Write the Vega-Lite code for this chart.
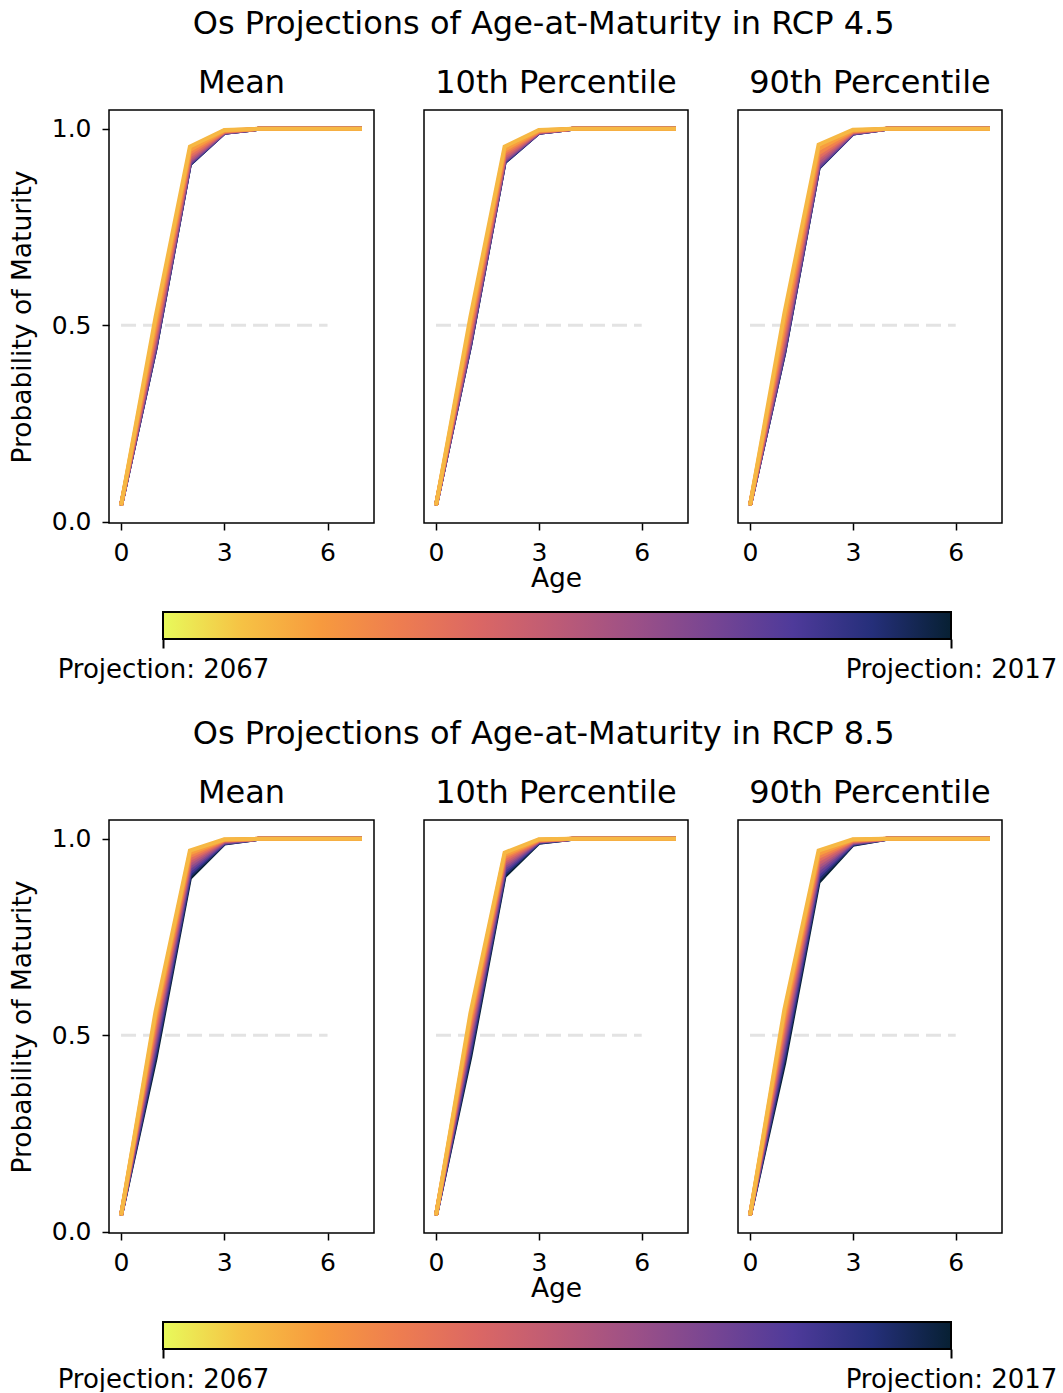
{
  "$schema": "https://vega.github.io/schema/vega-lite/v6.json",
  "background": "white",
  "padding": {"left": 8, "top": 8, "right": 0, "bottom": 0},
  "config": {
    "font": "DejaVu Sans",
    "view": {"stroke": "black", "strokeWidth": 1.5},
    "axis": {"grid": false, "domain": false, "tickColor": "black", "tickWidth": 1.5, "tickSize": 7, "labelFontSize": 25, "labelColor": "black", "titleFontSize": 26.5, "titleFontWeight": "normal", "titleColor": "black", "labelFont": "DejaVu Sans", "titleFont": "DejaVu Sans"},
    "title": {"fontSize": 32, "fontWeight": "normal", "color": "black", "font": "DejaVu Sans", "anchor": "middle"}
  },
  "datasets": {
    "half": [{"age": 0, "age2": 6, "p": 0.5}],
    "bar": [{"from": 2067, "to": 2017}],
    "m45": [
      {"year":2017,"age":0,"p":0.042},{"year":2017,"age":1,"p":0.440},{"year":2017,"age":2,"p":0.910},{"year":2017,"age":3,"p":0.990},{"year":2017,"age":4,"p":1},{"year":2017,"age":7,"p":1},
      {"year":2022,"age":0,"p":0.042},{"year":2022,"age":1,"p":0.441},{"year":2022,"age":2,"p":0.910},{"year":2022,"age":3,"p":0.990},{"year":2022,"age":4,"p":1},{"year":2022,"age":7,"p":1},
      {"year":2027,"age":0,"p":0.042},{"year":2027,"age":1,"p":0.443},{"year":2027,"age":2,"p":0.912},{"year":2027,"age":3,"p":0.990},{"year":2027,"age":4,"p":1},{"year":2027,"age":7,"p":1},
      {"year":2032,"age":0,"p":0.042},{"year":2032,"age":1,"p":0.447},{"year":2032,"age":2,"p":0.914},{"year":2032,"age":3,"p":0.991},{"year":2032,"age":4,"p":1},{"year":2032,"age":7,"p":1},
      {"year":2037,"age":0,"p":0.042},{"year":2037,"age":1,"p":0.453},{"year":2037,"age":2,"p":0.917},{"year":2037,"age":3,"p":0.991},{"year":2037,"age":4,"p":1},{"year":2037,"age":7,"p":1},
      {"year":2042,"age":0,"p":0.042},{"year":2042,"age":1,"p":0.460},{"year":2042,"age":2,"p":0.921},{"year":2042,"age":3,"p":0.992},{"year":2042,"age":4,"p":1},{"year":2042,"age":7,"p":1},
      {"year":2047,"age":0,"p":0.042},{"year":2047,"age":1,"p":0.469},{"year":2047,"age":2,"p":0.926},{"year":2047,"age":3,"p":0.993},{"year":2047,"age":4,"p":1},{"year":2047,"age":7,"p":1},
      {"year":2052,"age":0,"p":0.042},{"year":2052,"age":1,"p":0.479},{"year":2052,"age":2,"p":0.932},{"year":2052,"age":3,"p":0.993},{"year":2052,"age":4,"p":1},{"year":2052,"age":7,"p":1},
      {"year":2057,"age":0,"p":0.042},{"year":2057,"age":1,"p":0.491},{"year":2057,"age":2,"p":0.939},{"year":2057,"age":3,"p":0.994},{"year":2057,"age":4,"p":1},{"year":2057,"age":7,"p":1},
      {"year":2062,"age":0,"p":0.042},{"year":2062,"age":1,"p":0.505},{"year":2062,"age":2,"p":0.946},{"year":2062,"age":3,"p":0.996},{"year":2062,"age":4,"p":1},{"year":2062,"age":7,"p":1},
      {"year":2067,"age":0,"p":0.042},{"year":2067,"age":1,"p":0.520},{"year":2067,"age":2,"p":0.955},{"year":2067,"age":3,"p":0.997},{"year":2067,"age":4,"p":1},{"year":2067,"age":7,"p":1}
    ],
    "p10_45": [
      {"year":2017,"age":0,"p":0.042},{"year":2017,"age":1,"p":0.450},{"year":2017,"age":2,"p":0.915},{"year":2017,"age":3,"p":0.990},{"year":2017,"age":4,"p":1},{"year":2017,"age":7,"p":1},
      {"year":2022,"age":0,"p":0.042},{"year":2022,"age":1,"p":0.451},{"year":2022,"age":2,"p":0.915},{"year":2022,"age":3,"p":0.990},{"year":2022,"age":4,"p":1},{"year":2022,"age":7,"p":1},
      {"year":2027,"age":0,"p":0.042},{"year":2027,"age":1,"p":0.453},{"year":2027,"age":2,"p":0.917},{"year":2027,"age":3,"p":0.990},{"year":2027,"age":4,"p":1},{"year":2027,"age":7,"p":1},
      {"year":2032,"age":0,"p":0.042},{"year":2032,"age":1,"p":0.456},{"year":2032,"age":2,"p":0.919},{"year":2032,"age":3,"p":0.991},{"year":2032,"age":4,"p":1},{"year":2032,"age":7,"p":1},
      {"year":2037,"age":0,"p":0.042},{"year":2037,"age":1,"p":0.461},{"year":2037,"age":2,"p":0.921},{"year":2037,"age":3,"p":0.991},{"year":2037,"age":4,"p":1},{"year":2037,"age":7,"p":1},
      {"year":2042,"age":0,"p":0.042},{"year":2042,"age":1,"p":0.468},{"year":2042,"age":2,"p":0.925},{"year":2042,"age":3,"p":0.992},{"year":2042,"age":4,"p":1},{"year":2042,"age":7,"p":1},
      {"year":2047,"age":0,"p":0.042},{"year":2047,"age":1,"p":0.475},{"year":2047,"age":2,"p":0.929},{"year":2047,"age":3,"p":0.993},{"year":2047,"age":4,"p":1},{"year":2047,"age":7,"p":1},
      {"year":2052,"age":0,"p":0.042},{"year":2052,"age":1,"p":0.484},{"year":2052,"age":2,"p":0.935},{"year":2052,"age":3,"p":0.993},{"year":2052,"age":4,"p":1},{"year":2052,"age":7,"p":1},
      {"year":2057,"age":0,"p":0.042},{"year":2057,"age":1,"p":0.495},{"year":2057,"age":2,"p":0.941},{"year":2057,"age":3,"p":0.994},{"year":2057,"age":4,"p":1},{"year":2057,"age":7,"p":1},
      {"year":2062,"age":0,"p":0.042},{"year":2062,"age":1,"p":0.507},{"year":2062,"age":2,"p":0.947},{"year":2062,"age":3,"p":0.996},{"year":2062,"age":4,"p":1},{"year":2062,"age":7,"p":1},
      {"year":2067,"age":0,"p":0.042},{"year":2067,"age":1,"p":0.520},{"year":2067,"age":2,"p":0.955},{"year":2067,"age":3,"p":0.997},{"year":2067,"age":4,"p":1},{"year":2067,"age":7,"p":1}
    ],
    "p90_45": [
      {"year":2017,"age":0,"p":0.042},{"year":2017,"age":1,"p":0.430},{"year":2017,"age":2,"p":0.900},{"year":2017,"age":3,"p":0.988},{"year":2017,"age":4,"p":1},{"year":2017,"age":7,"p":1},
      {"year":2022,"age":0,"p":0.042},{"year":2022,"age":1,"p":0.431},{"year":2022,"age":2,"p":0.901},{"year":2022,"age":3,"p":0.988},{"year":2022,"age":4,"p":1},{"year":2022,"age":7,"p":1},
      {"year":2027,"age":0,"p":0.042},{"year":2027,"age":1,"p":0.434},{"year":2027,"age":2,"p":0.902},{"year":2027,"age":3,"p":0.988},{"year":2027,"age":4,"p":1},{"year":2027,"age":7,"p":1},
      {"year":2032,"age":0,"p":0.042},{"year":2032,"age":1,"p":0.439},{"year":2032,"age":2,"p":0.905},{"year":2032,"age":3,"p":0.989},{"year":2032,"age":4,"p":1},{"year":2032,"age":7,"p":1},
      {"year":2037,"age":0,"p":0.042},{"year":2037,"age":1,"p":0.446},{"year":2037,"age":2,"p":0.910},{"year":2037,"age":3,"p":0.990},{"year":2037,"age":4,"p":1},{"year":2037,"age":7,"p":1},
      {"year":2042,"age":0,"p":0.042},{"year":2042,"age":1,"p":0.455},{"year":2042,"age":2,"p":0.915},{"year":2042,"age":3,"p":0.991},{"year":2042,"age":4,"p":1},{"year":2042,"age":7,"p":1},
      {"year":2047,"age":0,"p":0.042},{"year":2047,"age":1,"p":0.466},{"year":2047,"age":2,"p":0.922},{"year":2047,"age":3,"p":0.992},{"year":2047,"age":4,"p":1},{"year":2047,"age":7,"p":1},
      {"year":2052,"age":0,"p":0.042},{"year":2052,"age":1,"p":0.479},{"year":2052,"age":2,"p":0.929},{"year":2052,"age":3,"p":0.993},{"year":2052,"age":4,"p":1},{"year":2052,"age":7,"p":1},
      {"year":2057,"age":0,"p":0.042},{"year":2057,"age":1,"p":0.494},{"year":2057,"age":2,"p":0.938},{"year":2057,"age":3,"p":0.994},{"year":2057,"age":4,"p":1},{"year":2057,"age":7,"p":1},
      {"year":2062,"age":0,"p":0.042},{"year":2062,"age":1,"p":0.511},{"year":2062,"age":2,"p":0.949},{"year":2062,"age":3,"p":0.996},{"year":2062,"age":4,"p":1},{"year":2062,"age":7,"p":1},
      {"year":2067,"age":0,"p":0.042},{"year":2067,"age":1,"p":0.530},{"year":2067,"age":2,"p":0.960},{"year":2067,"age":3,"p":0.998},{"year":2067,"age":4,"p":1},{"year":2067,"age":7,"p":1}
    ],
    "m85": [
      {"year":2017,"age":0,"p":0.042},{"year":2017,"age":1,"p":0.440},{"year":2017,"age":2,"p":0.900},{"year":2017,"age":3,"p":0.988},{"year":2017,"age":4,"p":1},{"year":2017,"age":7,"p":1},
      {"year":2022,"age":0,"p":0.042},{"year":2022,"age":1,"p":0.452},{"year":2022,"age":2,"p":0.907},{"year":2022,"age":3,"p":0.989},{"year":2022,"age":4,"p":1},{"year":2022,"age":7,"p":1},
      {"year":2027,"age":0,"p":0.042},{"year":2027,"age":1,"p":0.464},{"year":2027,"age":2,"p":0.914},{"year":2027,"age":3,"p":0.990},{"year":2027,"age":4,"p":1},{"year":2027,"age":7,"p":1},
      {"year":2032,"age":0,"p":0.042},{"year":2032,"age":1,"p":0.476},{"year":2032,"age":2,"p":0.921},{"year":2032,"age":3,"p":0.991},{"year":2032,"age":4,"p":1},{"year":2032,"age":7,"p":1},
      {"year":2037,"age":0,"p":0.042},{"year":2037,"age":1,"p":0.488},{"year":2037,"age":2,"p":0.928},{"year":2037,"age":3,"p":0.992},{"year":2037,"age":4,"p":1},{"year":2037,"age":7,"p":1},
      {"year":2042,"age":0,"p":0.042},{"year":2042,"age":1,"p":0.500},{"year":2042,"age":2,"p":0.935},{"year":2042,"age":3,"p":0.994},{"year":2042,"age":4,"p":1},{"year":2042,"age":7,"p":1},
      {"year":2047,"age":0,"p":0.042},{"year":2047,"age":1,"p":0.512},{"year":2047,"age":2,"p":0.942},{"year":2047,"age":3,"p":0.995},{"year":2047,"age":4,"p":1},{"year":2047,"age":7,"p":1},
      {"year":2052,"age":0,"p":0.042},{"year":2052,"age":1,"p":0.524},{"year":2052,"age":2,"p":0.949},{"year":2052,"age":3,"p":0.996},{"year":2052,"age":4,"p":1},{"year":2052,"age":7,"p":1},
      {"year":2057,"age":0,"p":0.042},{"year":2057,"age":1,"p":0.536},{"year":2057,"age":2,"p":0.956},{"year":2057,"age":3,"p":0.997},{"year":2057,"age":4,"p":1},{"year":2057,"age":7,"p":1},
      {"year":2062,"age":0,"p":0.042},{"year":2062,"age":1,"p":0.548},{"year":2062,"age":2,"p":0.963},{"year":2062,"age":3,"p":0.998},{"year":2062,"age":4,"p":1},{"year":2062,"age":7,"p":1},
      {"year":2067,"age":0,"p":0.042},{"year":2067,"age":1,"p":0.560},{"year":2067,"age":2,"p":0.970},{"year":2067,"age":3,"p":0.999},{"year":2067,"age":4,"p":1},{"year":2067,"age":7,"p":1}
    ],
    "p10_85": [
      {"year":2017,"age":0,"p":0.042},{"year":2017,"age":1,"p":0.445},{"year":2017,"age":2,"p":0.905},{"year":2017,"age":3,"p":0.990},{"year":2017,"age":4,"p":1},{"year":2017,"age":7,"p":1},
      {"year":2022,"age":0,"p":0.042},{"year":2022,"age":1,"p":0.456},{"year":2022,"age":2,"p":0.911},{"year":2022,"age":3,"p":0.991},{"year":2022,"age":4,"p":1},{"year":2022,"age":7,"p":1},
      {"year":2027,"age":0,"p":0.042},{"year":2027,"age":1,"p":0.467},{"year":2027,"age":2,"p":0.917},{"year":2027,"age":3,"p":0.992},{"year":2027,"age":4,"p":1},{"year":2027,"age":7,"p":1},
      {"year":2032,"age":0,"p":0.042},{"year":2032,"age":1,"p":0.478},{"year":2032,"age":2,"p":0.923},{"year":2032,"age":3,"p":0.993},{"year":2032,"age":4,"p":1},{"year":2032,"age":7,"p":1},
      {"year":2037,"age":0,"p":0.042},{"year":2037,"age":1,"p":0.489},{"year":2037,"age":2,"p":0.929},{"year":2037,"age":3,"p":0.994},{"year":2037,"age":4,"p":1},{"year":2037,"age":7,"p":1},
      {"year":2042,"age":0,"p":0.042},{"year":2042,"age":1,"p":0.500},{"year":2042,"age":2,"p":0.935},{"year":2042,"age":3,"p":0.995},{"year":2042,"age":4,"p":1},{"year":2042,"age":7,"p":1},
      {"year":2047,"age":0,"p":0.042},{"year":2047,"age":1,"p":0.511},{"year":2047,"age":2,"p":0.941},{"year":2047,"age":3,"p":0.995},{"year":2047,"age":4,"p":1},{"year":2047,"age":7,"p":1},
      {"year":2052,"age":0,"p":0.042},{"year":2052,"age":1,"p":0.522},{"year":2052,"age":2,"p":0.947},{"year":2052,"age":3,"p":0.996},{"year":2052,"age":4,"p":1},{"year":2052,"age":7,"p":1},
      {"year":2057,"age":0,"p":0.042},{"year":2057,"age":1,"p":0.533},{"year":2057,"age":2,"p":0.953},{"year":2057,"age":3,"p":0.997},{"year":2057,"age":4,"p":1},{"year":2057,"age":7,"p":1},
      {"year":2062,"age":0,"p":0.042},{"year":2062,"age":1,"p":0.544},{"year":2062,"age":2,"p":0.959},{"year":2062,"age":3,"p":0.998},{"year":2062,"age":4,"p":1},{"year":2062,"age":7,"p":1},
      {"year":2067,"age":0,"p":0.042},{"year":2067,"age":1,"p":0.555},{"year":2067,"age":2,"p":0.965},{"year":2067,"age":3,"p":0.999},{"year":2067,"age":4,"p":1},{"year":2067,"age":7,"p":1}
    ],
    "p90_85": [
      {"year":2017,"age":0,"p":0.042},{"year":2017,"age":1,"p":0.430},{"year":2017,"age":2,"p":0.890},{"year":2017,"age":3,"p":0.985},{"year":2017,"age":4,"p":1},{"year":2017,"age":7,"p":1},
      {"year":2022,"age":0,"p":0.042},{"year":2022,"age":1,"p":0.444},{"year":2022,"age":2,"p":0.898},{"year":2022,"age":3,"p":0.986},{"year":2022,"age":4,"p":1},{"year":2022,"age":7,"p":1},
      {"year":2027,"age":0,"p":0.042},{"year":2027,"age":1,"p":0.457},{"year":2027,"age":2,"p":0.906},{"year":2027,"age":3,"p":0.988},{"year":2027,"age":4,"p":1},{"year":2027,"age":7,"p":1},
      {"year":2032,"age":0,"p":0.042},{"year":2032,"age":1,"p":0.471},{"year":2032,"age":2,"p":0.914},{"year":2032,"age":3,"p":0.989},{"year":2032,"age":4,"p":1},{"year":2032,"age":7,"p":1},
      {"year":2037,"age":0,"p":0.042},{"year":2037,"age":1,"p":0.484},{"year":2037,"age":2,"p":0.922},{"year":2037,"age":3,"p":0.991},{"year":2037,"age":4,"p":1},{"year":2037,"age":7,"p":1},
      {"year":2042,"age":0,"p":0.042},{"year":2042,"age":1,"p":0.498},{"year":2042,"age":2,"p":0.930},{"year":2042,"age":3,"p":0.992},{"year":2042,"age":4,"p":1},{"year":2042,"age":7,"p":1},
      {"year":2047,"age":0,"p":0.042},{"year":2047,"age":1,"p":0.511},{"year":2047,"age":2,"p":0.938},{"year":2047,"age":3,"p":0.993},{"year":2047,"age":4,"p":1},{"year":2047,"age":7,"p":1},
      {"year":2052,"age":0,"p":0.042},{"year":2052,"age":1,"p":0.525},{"year":2052,"age":2,"p":0.946},{"year":2052,"age":3,"p":0.995},{"year":2052,"age":4,"p":1},{"year":2052,"age":7,"p":1},
      {"year":2057,"age":0,"p":0.042},{"year":2057,"age":1,"p":0.538},{"year":2057,"age":2,"p":0.954},{"year":2057,"age":3,"p":0.996},{"year":2057,"age":4,"p":1},{"year":2057,"age":7,"p":1},
      {"year":2062,"age":0,"p":0.042},{"year":2062,"age":1,"p":0.552},{"year":2062,"age":2,"p":0.962},{"year":2062,"age":3,"p":0.998},{"year":2062,"age":4,"p":1},{"year":2062,"age":7,"p":1},
      {"year":2067,"age":0,"p":0.042},{"year":2067,"age":1,"p":0.565},{"year":2067,"age":2,"p":0.970},{"year":2067,"age":3,"p":0.999},{"year":2067,"age":4,"p":1},{"year":2067,"age":7,"p":1}
    ]
  },
  "spacing": 36,
  "vconcat": [
    {
      "title": {"text": "Os Projections of Age-at-Maturity in RCP 4.5", "offset": 25, "dx": 11},
      "spacing": 18,
      "vconcat": [
        {
          "spacing": 48,
          "hconcat": [
            {
              "width": 265, "height": 413, "title": {"text": "Mean", "offset": 10},
              "encoding": {
                "x": {"field": "age", "type": "quantitative", "scale": {"domain": [-0.35, 7.35], "nice": false, "zero": false}, "axis": {"values": [0, 3, 6], "title": null, "labelPadding": 10}},
                "y": {"field": "p", "type": "quantitative", "scale": {"domain": [-0.003, 1.048], "nice": false, "zero": false}, "axis": {"values": [0, 0.5, 1], "format": ".1f", "title": "Probability of Maturity", "labelPadding": 11, "titlePadding": 15}}
              },
              "layer": [
                {"data": {"name": "half"}, "mark": {"type": "rule", "color": "#e3e3e3", "strokeWidth": 3, "strokeDash": [15, 7]}, "encoding": {"x2": {"field": "age2"}}},
                {"data": {"name": "m45"}, "mark": {"type": "line", "strokeWidth": 4, "strokeCap": "butt"}, "encoding": {"color": {"field": "year", "type": "quantitative", "legend": null, "scale": {"domain": [2017, 2067], "interpolate": "rgb", "range": ["#072033", "#252f7a", "#4e3a9a", "#764593", "#9c5087", "#bd5b76", "#db6764", "#ee7d50", "#f79a3e", "#f6b844"]}}}}
              ]
            },
            {
              "width": 264, "height": 413, "title": {"text": "10th Percentile", "offset": 10},
              "encoding": {
                "x": {"field": "age", "type": "quantitative", "scale": {"domain": [-0.35, 7.35], "nice": false, "zero": false}, "axis": {"values": [0, 3, 6], "title": "Age", "labelPadding": 10, "titlePadding": 0}},
                "y": {"field": "p", "type": "quantitative", "scale": {"domain": [-0.003, 1.048], "nice": false, "zero": false}, "axis": null}
              },
              "layer": [
                {"data": {"name": "half"}, "mark": {"type": "rule", "color": "#e3e3e3", "strokeWidth": 3, "strokeDash": [15, 7]}, "encoding": {"x2": {"field": "age2"}}},
                {"data": {"name": "p10_45"}, "mark": {"type": "line", "strokeWidth": 4, "strokeCap": "butt"}, "encoding": {"color": {"field": "year", "type": "quantitative", "legend": null, "scale": {"domain": [2017, 2067], "interpolate": "rgb", "range": ["#072033", "#252f7a", "#4e3a9a", "#764593", "#9c5087", "#bd5b76", "#db6764", "#ee7d50", "#f79a3e", "#f6b844"]}}}}
              ]
            },
            {
              "width": 264, "height": 413, "title": {"text": "90th Percentile", "offset": 10},
              "encoding": {
                "x": {"field": "age", "type": "quantitative", "scale": {"domain": [-0.35, 7.35], "nice": false, "zero": false}, "axis": {"values": [0, 3, 6], "title": null, "labelPadding": 10}},
                "y": {"field": "p", "type": "quantitative", "scale": {"domain": [-0.003, 1.048], "nice": false, "zero": false}, "axis": null}
              },
              "layer": [
                {"data": {"name": "half"}, "mark": {"type": "rule", "color": "#e3e3e3", "strokeWidth": 3, "strokeDash": [15, 7]}, "encoding": {"x2": {"field": "age2"}}},
                {"data": {"name": "p90_45"}, "mark": {"type": "line", "strokeWidth": 4, "strokeCap": "butt"}, "encoding": {"color": {"field": "year", "type": "quantitative", "legend": null, "scale": {"domain": [2017, 2067], "interpolate": "rgb", "range": ["#072033", "#252f7a", "#4e3a9a", "#764593", "#9c5087", "#bd5b76", "#db6764", "#ee7d50", "#f79a3e", "#f6b844"]}}}}
              ]
            }
          ]
        },
        {
          "width": 896, "height": 27,
          "view": {"stroke": null},
          "data": {"name": "bar"},
          "mark": {"type": "rect", "stroke": "black", "strokeWidth": 2,
            "fill": {"gradient": "linear", "x1": 0, "x2": 1, "y1": 0, "y2": 0, "stops": [
              {"offset": 0, "color": "#e8fa5b"}, {"offset": 0.1, "color": "#f6c244"}, {"offset": 0.2, "color": "#f79a3e"},
              {"offset": 0.3, "color": "#ee7d50"}, {"offset": 0.4, "color": "#db6764"}, {"offset": 0.5, "color": "#bd5b76"},
              {"offset": 0.6, "color": "#9c5087"}, {"offset": 0.7, "color": "#764593"}, {"offset": 0.8, "color": "#4e3a9a"},
              {"offset": 0.9, "color": "#252f7a"}, {"offset": 1, "color": "#072033"}]}},
          "encoding": {
            "x": {"field": "from", "type": "quantitative", "scale": {"domain": [2067, 2017], "range": [54, 842], "nice": false, "zero": false},
              "axis": {"values": [2067, 2017], "labelExpr": "'Projection: ' + datum.value", "title": null, "tickSize": 9, "tickWidth": 2, "labelPadding": 8, "labelFontSize": 26, "labelOverlap": false, "labelFlush": false, "labelLimit": 500}},
            "x2": {"field": "to"}
          }
        }
      ]
    },
    {
      "title": {"text": "Os Projections of Age-at-Maturity in RCP 8.5", "offset": 25, "dx": 11},
      "spacing": 18,
      "vconcat": [
        {
          "spacing": 48,
          "hconcat": [
            {
              "width": 265, "height": 413, "title": {"text": "Mean", "offset": 10},
              "encoding": {
                "x": {"field": "age", "type": "quantitative", "scale": {"domain": [-0.35, 7.35], "nice": false, "zero": false}, "axis": {"values": [0, 3, 6], "title": null, "labelPadding": 10}},
                "y": {"field": "p", "type": "quantitative", "scale": {"domain": [-0.003, 1.048], "nice": false, "zero": false}, "axis": {"values": [0, 0.5, 1], "format": ".1f", "title": "Probability of Maturity", "labelPadding": 11, "titlePadding": 15}}
              },
              "layer": [
                {"data": {"name": "half"}, "mark": {"type": "rule", "color": "#e3e3e3", "strokeWidth": 3, "strokeDash": [15, 7]}, "encoding": {"x2": {"field": "age2"}}},
                {"data": {"name": "m85"}, "mark": {"type": "line", "strokeWidth": 4, "strokeCap": "butt"}, "encoding": {"color": {"field": "year", "type": "quantitative", "legend": null, "scale": {"domain": [2017, 2067], "interpolate": "rgb", "range": ["#072033", "#252f7a", "#4e3a9a", "#764593", "#9c5087", "#bd5b76", "#db6764", "#ee7d50", "#f79a3e", "#f6b844"]}}}}
              ]
            },
            {
              "width": 264, "height": 413, "title": {"text": "10th Percentile", "offset": 10},
              "encoding": {
                "x": {"field": "age", "type": "quantitative", "scale": {"domain": [-0.35, 7.35], "nice": false, "zero": false}, "axis": {"values": [0, 3, 6], "title": "Age", "labelPadding": 10, "titlePadding": 0}},
                "y": {"field": "p", "type": "quantitative", "scale": {"domain": [-0.003, 1.048], "nice": false, "zero": false}, "axis": null}
              },
              "layer": [
                {"data": {"name": "half"}, "mark": {"type": "rule", "color": "#e3e3e3", "strokeWidth": 3, "strokeDash": [15, 7]}, "encoding": {"x2": {"field": "age2"}}},
                {"data": {"name": "p10_85"}, "mark": {"type": "line", "strokeWidth": 4, "strokeCap": "butt"}, "encoding": {"color": {"field": "year", "type": "quantitative", "legend": null, "scale": {"domain": [2017, 2067], "interpolate": "rgb", "range": ["#072033", "#252f7a", "#4e3a9a", "#764593", "#9c5087", "#bd5b76", "#db6764", "#ee7d50", "#f79a3e", "#f6b844"]}}}}
              ]
            },
            {
              "width": 264, "height": 413, "title": {"text": "90th Percentile", "offset": 10},
              "encoding": {
                "x": {"field": "age", "type": "quantitative", "scale": {"domain": [-0.35, 7.35], "nice": false, "zero": false}, "axis": {"values": [0, 3, 6], "title": null, "labelPadding": 10}},
                "y": {"field": "p", "type": "quantitative", "scale": {"domain": [-0.003, 1.048], "nice": false, "zero": false}, "axis": null}
              },
              "layer": [
                {"data": {"name": "half"}, "mark": {"type": "rule", "color": "#e3e3e3", "strokeWidth": 3, "strokeDash": [15, 7]}, "encoding": {"x2": {"field": "age2"}}},
                {"data": {"name": "p90_85"}, "mark": {"type": "line", "strokeWidth": 4, "strokeCap": "butt"}, "encoding": {"color": {"field": "year", "type": "quantitative", "legend": null, "scale": {"domain": [2017, 2067], "interpolate": "rgb", "range": ["#072033", "#252f7a", "#4e3a9a", "#764593", "#9c5087", "#bd5b76", "#db6764", "#ee7d50", "#f79a3e", "#f6b844"]}}}}
              ]
            }
          ]
        },
        {
          "width": 896, "height": 27,
          "view": {"stroke": null},
          "data": {"name": "bar"},
          "mark": {"type": "rect", "stroke": "black", "strokeWidth": 2,
            "fill": {"gradient": "linear", "x1": 0, "x2": 1, "y1": 0, "y2": 0, "stops": [
              {"offset": 0, "color": "#e8fa5b"}, {"offset": 0.1, "color": "#f6c244"}, {"offset": 0.2, "color": "#f79a3e"},
              {"offset": 0.3, "color": "#ee7d50"}, {"offset": 0.4, "color": "#db6764"}, {"offset": 0.5, "color": "#bd5b76"},
              {"offset": 0.6, "color": "#9c5087"}, {"offset": 0.7, "color": "#764593"}, {"offset": 0.8, "color": "#4e3a9a"},
              {"offset": 0.9, "color": "#252f7a"}, {"offset": 1, "color": "#072033"}]}},
          "encoding": {
            "x": {"field": "from", "type": "quantitative", "scale": {"domain": [2067, 2017], "range": [54, 842], "nice": false, "zero": false},
              "axis": {"values": [2067, 2017], "labelExpr": "'Projection: ' + datum.value", "title": null, "tickSize": 9, "tickWidth": 2, "labelPadding": 8, "labelFontSize": 26, "labelOverlap": false, "labelFlush": false, "labelLimit": 500}},
            "x2": {"field": "to"}
          }
        }
      ]
    }
  ]
}
